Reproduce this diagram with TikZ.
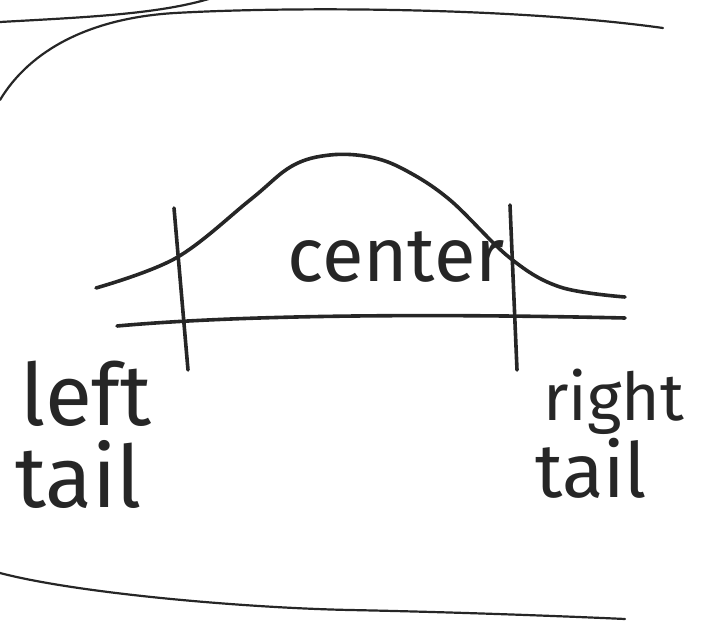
\documentclass[tikz,border=0pt]{standalone}
\usepackage{fontspec}
\setmainfont{Fira Sans}
\begin{document}
\begin{tikzpicture}[x=1pt,y=-1pt,
  ink/.style={draw=black!85, line cap=round, line join=round},
  pen/.style={ink, line width=3.6pt},
  border/.style={ink, line width=2.2pt},
  hand/.style={inner sep=0pt, anchor=base west, text=black!85}]
\useasboundingbox (0,0) rectangle (701,623);
% frame strokes
\draw[border] (0,22) .. controls (90,17) and (160,14) .. (212,-2);
\draw[border] (0,100) .. controls (30,50) and (90,18) .. (175,13)
  .. controls (300,6) and (520,8) .. (663,28);
\draw[border] (0,573) .. controls (80,594) and (250,608) .. (350,610)
  .. controls (450,612) and (560,616) .. (625,619);
% bell curve
\draw[pen] plot[smooth, tension=0.6] coordinates {(96,288) (176,258) (250,200) (292,166) (330,155) (370,157) (405,170) (450,200) (510,258) (560,287) (625,297)};
% axis
\draw[pen] (117,326) .. controls (250,314) and (450,314) .. (625,318);
% cut lines
\draw[pen] (174,208) -- (188,370);
\draw[pen] (510,205) -- (517,370);
% labels
\node[hand, font=\fontsize{76}{76}\selectfont] (center) at (287,281) {center};
\node[hand, font=\fontsize{86}{86}\selectfont] (left) at (20,425) {left};
\node[hand, font=\fontsize{86}{86}\selectfont] (tailL) at (15,507) {tail};
\node[hand, font=\fontsize{66}{66}\selectfont] (right) at (543,420) {right};
\node[hand, font=\fontsize{76}{76}\selectfont] (tailR) at (535,497) {tail};
\end{tikzpicture}
\end{document}
